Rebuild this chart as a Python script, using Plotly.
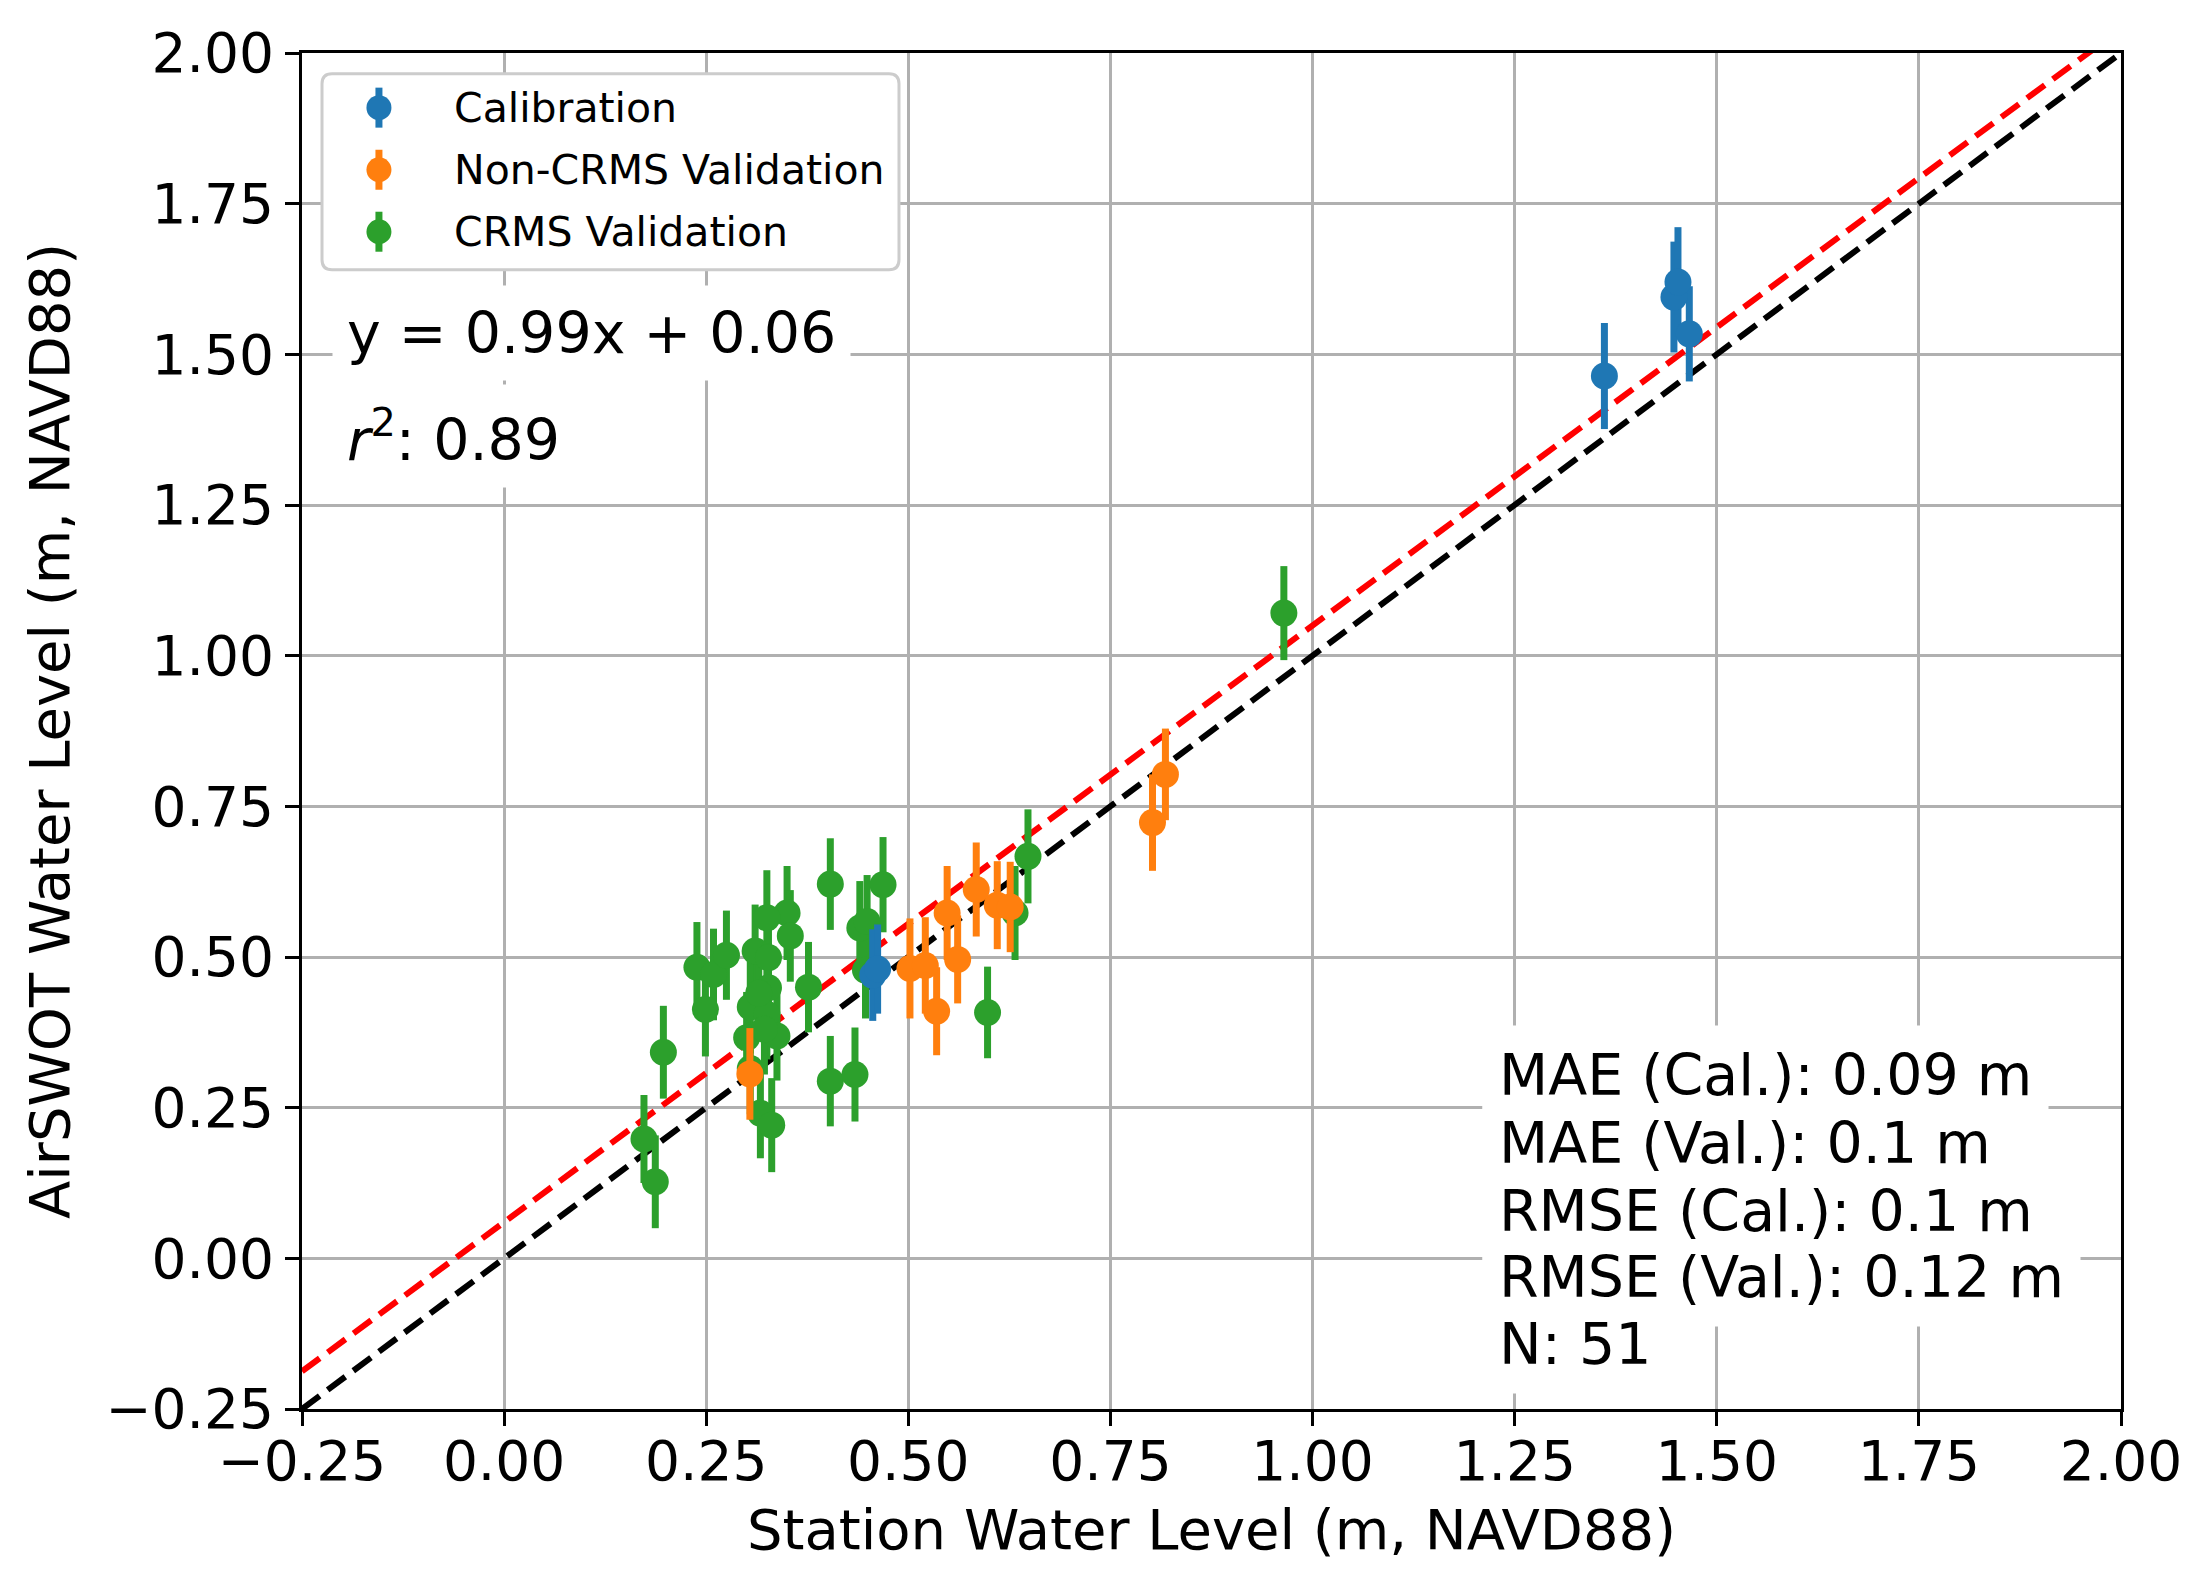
import plotly.graph_objects as go

# ---------------- data ----------------
cal_x = [1.361, 1.447, 1.452, 1.466, 0.456, 0.462]
cal_y = [1.464, 1.595, 1.620, 1.534, 0.470, 0.480]
cal_err = [0.088, 0.092, 0.091, 0.079, 0.076, 0.074]

noncrms_x = [0.304, 0.502, 0.521, 0.535, 0.548, 0.561, 0.584, 0.610, 0.626, 0.802, 0.818]
noncrms_y = [0.306, 0.481, 0.486, 0.410, 0.573, 0.496, 0.612, 0.586, 0.583, 0.723, 0.803]
noncrms_err = [0.076, 0.083, 0.080, 0.073, 0.078, 0.073, 0.078, 0.073, 0.075, 0.080, 0.076]

crms_x = [0.2385, 0.249, 0.259, 0.275, 0.3105, 0.327, 0.350, 0.354, 0.3765, 0.325,
          0.327, 0.3045, 0.325, 0.300, 0.3375, 0.315, 0.322, 0.197, 0.173, 0.187,
          0.3045, 0.317, 0.331, 0.4035, 0.4035, 0.434, 0.440, 0.449, 0.447, 0.4687,
          0.598, 0.632, 0.648, 0.9645]
crms_y = [0.483, 0.413, 0.471, 0.503, 0.510, 0.499, 0.573, 0.535, 0.450, 0.565,
          0.449, 0.417, 0.405, 0.366, 0.369, 0.440, 0.380, 0.342, 0.198, 0.127,
          0.315, 0.241, 0.221, 0.621, 0.294, 0.305, 0.548, 0.559, 0.478, 0.620,
          0.408, 0.573, 0.667, 1.0706]
crms_err = [0.075, 0.078, 0.076, 0.074, 0.077, 0.075, 0.078, 0.076, 0.075, 0.079,
            0.074, 0.077, 0.075, 0.076, 0.074, 0.078, 0.075, 0.077, 0.073, 0.077,
            0.076, 0.075, 0.078, 0.076, 0.075, 0.078, 0.078, 0.077, 0.080, 0.079,
            0.076, 0.078, 0.078, 0.078]

line_x = [-0.25, 2.0]
fit_slope = 0.99
fit_intercept = 0.06

tick_vals = [-0.25, 0.0, 0.25, 0.5, 0.75, 1.0, 1.25, 1.5, 1.75, 2.0]
tick_text = ["\u22120.25", "0.00", "0.25", "0.50", "0.75", "1.00", "1.25", "1.50", "1.75", "2.00"]

legend_names = ["Calibration", "Non-CRMS Validation", "CRMS Validation"]

stats_lines = ["MAE (Cal.): 0.09 m", "MAE (Val.): 0.1 m", "RMSE (Cal.): 0.1 m",
               "RMSE (Val.): 0.12 m", "N: 51"]

# ---------------- styling / layout ----------------
FONT = "DejaVu Sans"
BLUE, ORANGE, GREEN = "#1f77b4", "#ff7f0e", "#2ca02c"
legend_colors = [BLUE, ORANGE, GREEN]

fig = go.Figure()

# reference lines (beneath markers)
fig.add_trace(go.Scatter(x=line_x, y=line_x, mode="lines", showlegend=False,
                         line=dict(color="black", width=6, dash="22px,10px"),
                         hoverinfo="skip"))
fig.add_trace(go.Scatter(x=line_x, y=[fit_slope * v + fit_intercept for v in line_x],
                         mode="lines", showlegend=False,
                         line=dict(color="red", width=6, dash="22px,10px"),
                         hoverinfo="skip"))


def err_trace(x, y, e, color, name):
    return go.Scatter(
        x=x, y=y, mode="markers", name=name, showlegend=False,
        marker=dict(color=color, size=27, line=dict(width=0)),
        error_y=dict(type="data", array=e, visible=True, color=color,
                     thickness=7, width=0),
    )


fig.add_trace(err_trace(crms_x, crms_y, crms_err, GREEN, legend_names[2]))
fig.add_trace(err_trace(noncrms_x, noncrms_y, noncrms_err, ORANGE, legend_names[1]))
fig.add_trace(err_trace(cal_x, cal_y, cal_err, BLUE, legend_names[0]))

axis_common = dict(
    range=[-0.25, 2.0], tickvals=tick_vals, ticktext=tick_text,
    showgrid=True, gridcolor="#b0b0b0", gridwidth=2.5,
    zeroline=False, showline=True, linecolor="black", linewidth=3, mirror=True,
    ticks="outside", ticklen=14, tickwidth=3, tickcolor="black",
    tickfont=dict(family=FONT, size=55, color="black"),
)

fig.update_xaxes(**axis_common, ticklabelstandoff=-12,
                 title=dict(text="Station Water Level (m, NAVD88)",
                            font=dict(family=FONT, size=56, color="black"), standoff=18))
fig.update_yaxes(**axis_common,
                 title=dict(text="AirSWOT Water Level (m, NAVD88)",
                            font=dict(family=FONT, size=56, color="black"), standoff=18))

annotations = []
txt_font = dict(family=FONT, size=57, color="black")
white_font = dict(family=FONT, size=57, color="white")

# fit equation and r^2 (white box behind)
for txt, yy in [("y = 0.99x + 0.06", 1.536), ("<i>r</i><sup>2</sup>: 0.89", 1.365)]:
    annotations.append(dict(x=-0.213, y=yy, xref="x", yref="y", xanchor="left",
                            yanchor="middle", text=txt, showarrow=False,
                            bgcolor="white", borderpad=14, font=txt_font))

# statistics block: white backgrounds first, then text on top
stats_x = 1.210
stats_y = [0.305, 0.192, 0.079, -0.031, -0.142]
for txt, yy in zip(stats_lines, stats_y):
    annotations.append(dict(x=stats_x, y=yy, xref="x", yref="y", xanchor="left",
                            yanchor="middle", text=txt, showarrow=False,
                            bgcolor="white", borderpad=16, font=white_font))
for txt, yy in zip(stats_lines, stats_y):
    annotations.append(dict(x=stats_x, y=yy, xref="x", yref="y", xanchor="left",
                            yanchor="middle", text=txt, showarrow=False,
                            borderpad=16, font=txt_font))

# custom legend (matplotlib style, errorbar symbols)
shapes = []
lx0, lx1, ly0, ly1 = 0.011, 0.3282, 0.8402, 0.9847
rx, ry = 0.0055, 0.0074
box_path = (f"M {lx0+rx},{ly1} L {lx1-rx},{ly1} Q {lx1},{ly1} {lx1},{ly1-ry} "
            f"L {lx1},{ly0+ry} Q {lx1},{ly0} {lx1-rx},{ly0} L {lx0+rx},{ly0} "
            f"Q {lx0},{ly0} {lx0},{ly0+ry} L {lx0},{ly1-ry} Q {lx0},{ly1} {lx0+rx},{ly1} Z")
shapes.append(dict(type="path", path=box_path, xref="paper", yref="paper",
                   fillcolor="white", line=dict(color="#cccccc", width=3), layer="above"))
row_y = [0.9597, 0.9139, 0.8682]
sym_x = 0.0423
for name, col, ry_ in zip(legend_names, legend_colors, row_y):
    shapes.append(dict(type="line", xref="paper", yref="paper",
                       xsizemode="pixel", ysizemode="pixel", xanchor=sym_x, yanchor=ry_,
                       x0=0, x1=0, y0=-20, y1=20, line=dict(color=col, width=7),
                       layer="above"))
    shapes.append(dict(type="circle", xref="paper", yref="paper",
                       xsizemode="pixel", ysizemode="pixel", xanchor=sym_x, yanchor=ry_,
                       x0=-12.5, x1=12.5, y0=-12.5, y1=12.5, fillcolor=col,
                       line=dict(width=0), layer="above"))
    annotations.append(dict(x=0.0826, y=ry_, xref="paper", yref="paper",
                            xanchor="left", yanchor="middle", text=name, showarrow=False,
                            font=dict(family=FONT, size=41, color="black")))

fig.update_layout(
    width=2208, height=1591,
    margin=dict(l=302, r=87, t=53, b=182, autoexpand=False),
    paper_bgcolor="white", plot_bgcolor="white",
    font=dict(family=FONT, color="black"),
    showlegend=False,
    annotations=annotations,
    shapes=shapes,
)

fig.write_html("out.html", config={"displayModeBar": False},
               post_script="document.body.style.margin='0px';")
